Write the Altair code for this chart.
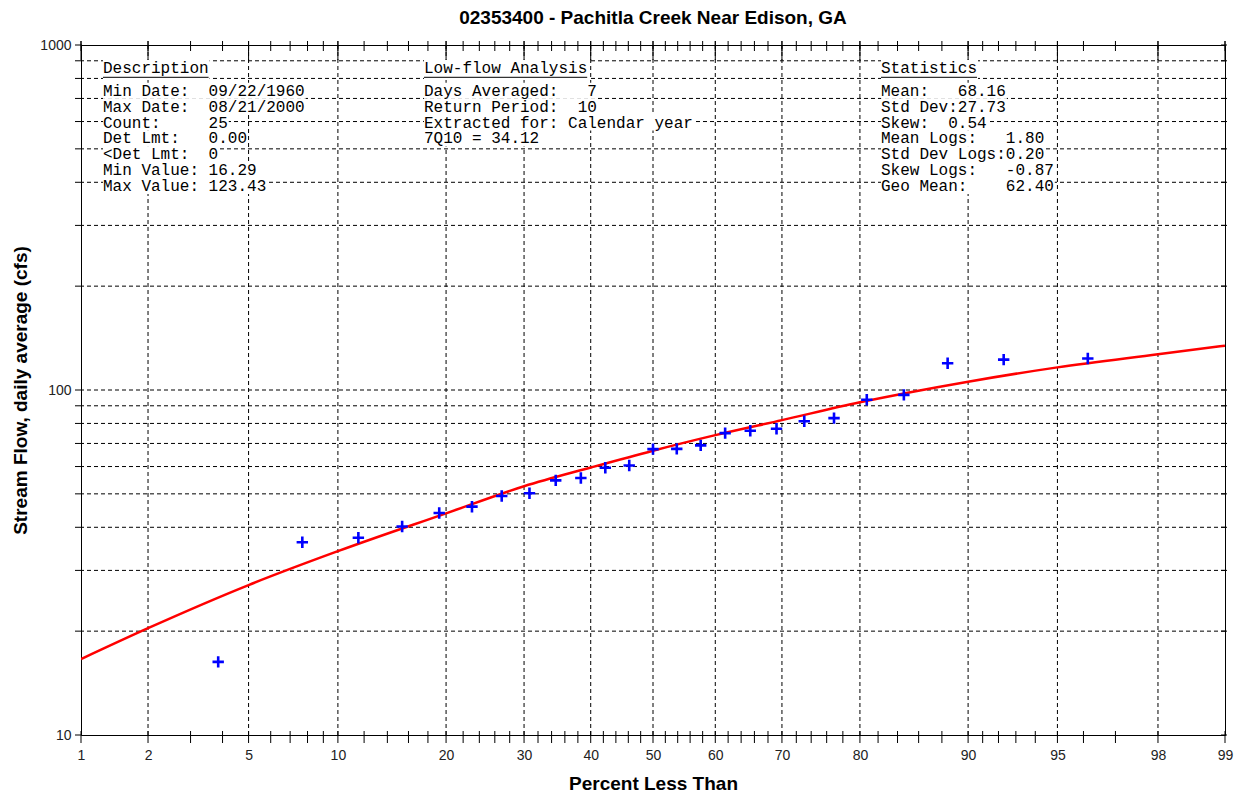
import altair as alt
import pandas as pd
from statistics import NormalDist

# ---------------- data ----------------
TITLE = "02353400 - Pachitla Creek Near Edison, GA"
X_TITLE = "Percent Less Than"
Y_TITLE = "Stream Flow, daily average (cfs)"

obs_pct = [3.85, 7.69, 11.54, 15.38, 19.23, 23.08, 26.92, 30.77, 34.62, 38.46,
           42.31, 46.15, 50.00, 53.85, 57.69, 61.54, 65.38, 69.23, 73.08, 76.92,
           80.77, 84.62, 88.46, 92.31, 96.15]
obs_flow = [16.29, 36.2, 37.3, 40.2, 44.0, 45.9, 49.3, 50.2, 54.7, 55.6,
            59.5, 60.4, 67.4, 67.5, 69.1, 75.0, 76.2, 77.2, 81.2, 82.9,
            93.7, 96.8, 119.6, 122.5, 123.43]

fit_pct = [1, 2, 5, 10, 20, 30, 40, 50, 60, 70, 80, 90, 95, 98, 99]
fit_flow = [16.6, 20.4, 27.2, 34.1, 43.9, 52.6, 59.6, 66.7, 74.0, 81.8,
            92.1, 105.7, 116.3, 126.9, 134.4]

major_pct = [1, 2, 5, 10, 20, 30, 40, 50, 60, 70, 80, 90, 95, 98, 99]
grid_pct = [2, 5, 10, 20, 30, 40, 50, 60, 70, 80, 90, 95, 98]
minor_pct = [3, 4, 6, 7, 8, 9, 12, 14, 16, 18, 22, 24, 26, 28, 32, 34, 36, 38,
             42, 44, 46, 48, 52, 54, 56, 58, 62, 64, 66, 68, 72, 74, 76, 78,
             82, 84, 86, 88, 91, 92, 93, 94, 96, 97]
y_ticks = [10, 20, 30, 40, 50, 60, 70, 80, 90, 100, 200, 300, 400, 500, 600,
           700, 800, 900, 1000]
y_grid = [20, 30, 40, 50, 60, 70, 80, 90, 100, 200, 300, 400, 500, 600,
          700, 800, 900]
y_labels = [10, 100, 1000]

desc_header = "Description"
desc_lines = ["Min Date:  09/22/1960", "Max Date:  08/21/2000", "Count:     25",
              "Det Lmt:   0.00", "<Det Lmt:  0", "Min Value: 16.29",
              "Max Value: 123.43"]
low_header = "Low-flow Analysis"
low_lines = ["Days Averaged:   7", "Return Period:  10",
             "Extracted for: Calendar year", "7Q10 = 34.12"]
stat_header = "Statistics"
stat_lines = ["Mean:   68.16", "Std Dev:27.73", "Skew:  0.54",
              "Mean Logs:   1.80", "Std Dev Logs:0.20", "Skew Logs:   -0.87",
              "Geo Mean:    62.40"]

# ---------------- layout ----------------
W, H = 1144, 690
PAD_L, PAD_T = 81, 45
nd = NormalDist()
zmin, zmax = nd.inv_cdf(0.01), nd.inv_cdf(0.99)
label_z = [nd.inv_cdf(p / 100) for p in major_pct]

MONO = "Liberation Mono"
MONO_SIZE = 16
CW = 9.6             # advance of one monospace character
ROW = 15.9
HEAD_Y = 68.3 - PAD_T
ROW0_Y = 90.7 - PAD_T
blocks = [(103 - PAD_L, desc_header, desc_lines),
          (424 - PAD_L, low_header, low_lines),
          (881 - PAD_L, stat_header, stat_lines)]


def keep_spaces(s):
    # SVG collapses runs of spaces; non-breaking spaces keep the columns
    return s.replace(" ", "\u00a0")


rows = []
heads = []
for bx, head, lines in blocks:
    rows.append(dict(t=keep_spaces(head), xa=bx, xb=bx + len(head) * CW + 1,
                     yc=HEAD_Y, ya=HEAD_Y - 8.5, yb=HEAD_Y + 11))
    heads.append(dict(xa=bx, xb=bx + len(head) * CW, yc=HEAD_Y + 9))
    for i, ln in enumerate(lines):
        yc = ROW0_Y + i * ROW
        rows.append(dict(t=keep_spaces(ln), xa=bx, xb=bx + len(ln) * CW + 1,
                         yc=yc, ya=yc - 8, yb=yc + 8))
ann = pd.DataFrame(rows)
und = pd.DataFrame(heads)

obs = pd.DataFrame({"pct": obs_pct, "flow": obs_flow})
fit = pd.DataFrame({"pct": fit_pct, "flow": fit_flow})
grid = pd.DataFrame({"pct": grid_pct})
hgrid = pd.DataFrame({"v": y_grid})
xt_major = pd.DataFrame({"pct": major_pct})
xt_all = pd.DataFrame({"pct": major_pct + minor_pct})
yt = pd.DataFrame({"v": y_ticks})

xscale = alt.Scale(domain=[zmin, zmax], nice=False, zero=False)
yscale = alt.Scale(type="log", domain=[10, 1000], nice=False)

LABEL_FONT = "Liberation Sans Narrow, Liberation Sans, Arial"
TITLE_FONT = "Liberation Sans, Arial"
x_label_expr = "'' + round(cumulativeNormal(datum.value)*100)"
y_label_expr = "'' + round(datum.value)"

axis_bottom = alt.Axis(orient="bottom", values=label_z, labelExpr=x_label_expr,
                       grid=False, domain=False, ticks=False, tickSize=0,
                       labelFont=LABEL_FONT, labelFontSize=14,
                       labelColor="#222", labelBaseline="middle", labelPadding=20,
                       labelOverlap=False, labelFlush=False,
                       title=X_TITLE, titleFont=TITLE_FONT, titleFontSize=19,
                       titleFontWeight="bold", titleColor="black",
                       titleBaseline="middle", titleY=783 - PAD_T - H,
                       titleX=W / 2)
axis_left = alt.Axis(orient="left", values=y_labels, labelExpr=y_label_expr,
                     grid=False, domain=False, ticks=False, tickSize=0,
                     labelFont=LABEL_FONT, labelFontSize=14, labelColor="#222",
                     labelPadding=10, labelOverlap=False,
                     title=Y_TITLE, titleFont=TITLE_FONT, titleFontSize=19,
                     titleFontWeight="bold", titleColor="black",
                     titleX=20 - PAD_L, titleY=H / 2, titleAngle=270,
                     titleAlign="center", titleBaseline="middle")

zcalc = "quantileNormal(datum.pct/100)"
dash = dict(color="black", strokeDash=[4, 3], strokeWidth=1)

vgrid_layer = alt.Chart(grid).transform_calculate(z=zcalc).mark_rule(**dash).encode(
    x=alt.X("z:Q", scale=xscale, axis=None))
hgrid_layer = alt.Chart(hgrid).mark_rule(**dash).encode(
    y=alt.Y("v:Q", scale=yscale, axis=None))

line_layer = alt.Chart(fit).transform_calculate(z=zcalc).mark_line(
    color="#ff0000", strokeWidth=2.5, interpolate="monotone", clip=True
).encode(
    x=alt.X("z:Q", scale=xscale, axis=axis_bottom),
    y=alt.Y("flow:Q", scale=yscale, axis=axis_left),
)

point_layer = alt.Chart(obs).transform_calculate(z=zcalc).mark_point(
    shape="M-1,0H1M0,-1V1", size=130, filled=False, stroke="#0000ff",
    strokeWidth=2.6, opacity=1
).encode(
    x=alt.X("z:Q", scale=xscale, axis=None),
    y=alt.Y("flow:Q", scale=yscale, axis=None),
)

bg_layer = alt.Chart(ann).mark_rect(fill="white", opacity=1).encode(
    x=alt.X("xa:Q", scale=None, axis=None), x2="xb:Q",
    y=alt.Y("ya:Q", scale=None, axis=None), y2="yb:Q",
)
text_layer = alt.Chart(ann).mark_text(align="left", baseline="middle", font=MONO,
                                      fontSize=MONO_SIZE, color="black").encode(
    x=alt.X("xa:Q", scale=None, axis=None),
    y=alt.Y("yc:Q", scale=None, axis=None),
    text="t:N",
)
under_layer = alt.Chart(und).mark_rule(color="black", strokeWidth=1).encode(
    x=alt.X("xa:Q", scale=None, axis=None), x2="xb:Q",
    y=alt.Y("yc:Q", scale=None, axis=None),
)

# tick marks on the four sides (crossing the frame like the reference)
tick_rule = dict(color="black", strokeWidth=1)
bottom_ticks = alt.Chart(xt_all).transform_calculate(z=zcalc).mark_rule(**tick_rule).encode(
    x=alt.X("z:Q", scale=xscale, axis=None), y=alt.value(H - 4), y2=alt.value(H + 8))
top_ticks = alt.Chart(xt_all).transform_calculate(z=zcalc).mark_rule(**tick_rule).encode(
    x=alt.X("z:Q", scale=xscale, axis=None), y=alt.value(-4), y2=alt.value(6))
top_major = alt.Chart(xt_major).transform_calculate(z=zcalc).mark_rule(**tick_rule).encode(
    x=alt.X("z:Q", scale=xscale, axis=None), y=alt.value(-4), y2=alt.value(15))
left_ticks = alt.Chart(yt).mark_rule(**tick_rule).encode(
    y=alt.Y("v:Q", scale=yscale, axis=None), x=alt.value(-6), x2=alt.value(1))
right_ticks = alt.Chart(yt).mark_rule(**tick_rule).encode(
    y=alt.Y("v:Q", scale=yscale, axis=None), x=alt.value(W - 4), x2=alt.value(W + 2))

chart = alt.layer(vgrid_layer, hgrid_layer, line_layer, point_layer, bg_layer,
                  text_layer, under_layer, bottom_ticks, top_ticks, top_major,
                  left_ticks, right_ticks).resolve_scale(
    x="independent", y="independent"
).resolve_axis(
    x="independent", y="independent"
).properties(
    width=W, height=H,
    autosize=alt.AutoSizeParams(type="none"),
    padding={"left": PAD_L, "top": PAD_T, "right": 1244 - PAD_L - W,
             "bottom": 798 - PAD_T - H},
    background="white",
    title=alt.TitleParams(TITLE, font=TITLE_FONT, fontSize=19, fontWeight="bold",
                          color="black", anchor="middle", offset=10),
).configure_view(stroke="black", strokeWidth=1)

chart.save("out.html", embed_options={"renderer": "svg", "actions": False})
